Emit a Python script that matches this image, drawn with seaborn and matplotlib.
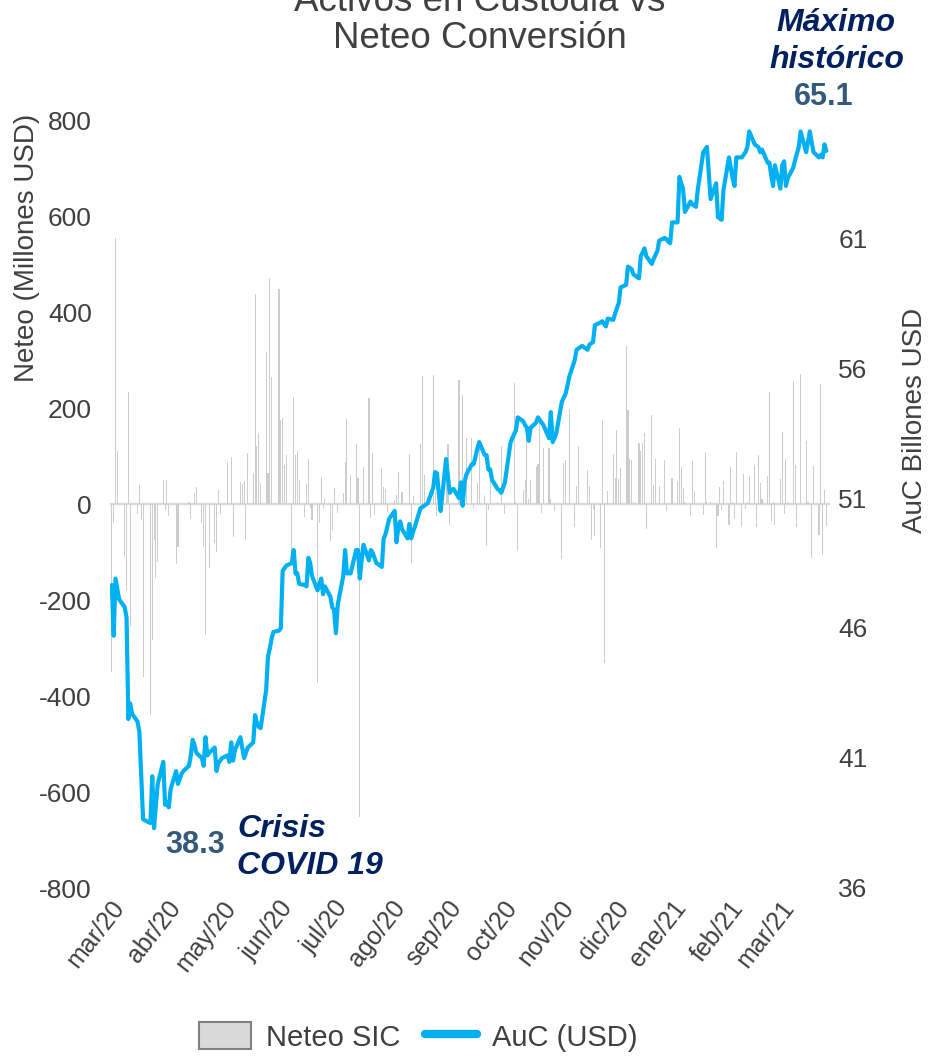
import numpy as np
import pandas as pd
import matplotlib
matplotlib.use("Agg")
import matplotlib.pyplot as plt
import matplotlib.dates as mdates
from matplotlib.patches import Patch
from matplotlib.lines import Line2D
import seaborn as sns

# ---------------- data ----------------
start_date = "2020-03-02"  # first business day shown

# Neteo SIC (Millones USD), daily business days
neteo = [
    -350, -40, 555, 111, 0, -110, -180, 233, -255, 0,
    -20, 40, -33, -360, 0, -440, -283, -75, -155, -120,
    49, -13, 49, -26, 0, -124, -89, 0, 0, 0,
    5, -30, 0, 23, 35, -40, -89, -273, 0, -134,
    -82, -99, 30, -20, 0, 88, 0, 97, -68, 0,
    45, 42, 47, -75, 107, 65, 437, 121, 147, 44,
    317, 65, 470, 265, 0, 447, 174, 180, 81, 102,
    -96, 222, 102, 110, 51, -28, 42, 93, -9, -33,
    -373, -40, 56, -9, 10, -78, -54, 34, 0, -18,
    22, 88, 178, 0, 60, 126, 55, -652, 0, 78,
    220, -30, 107, -23, 0, 74, 35, 31, -16, 0,
    8, 19, 67, 0, 26, 0, 105, -122, 17, 0,
    124, 267, 61, 0, 0, 269, 26, -26, 37, 0,
    85, 124, -43, 0, 0, 259, 0, 228, 0, 137,
    137, -8, 0, 44, 134, 16, -88, -12, 51, 0,
    5, 0, 120, 0, -20, 0, 0, 252, 5, -97,
    30, 51, 144, 10, 51, 78, 83, 183, -19, 117,
    117, 10, 0, -15, 0, -114, 85, 91, 0, 195,
    -48, 38, 120, 0, 0, 70, 38, -74, -10, -67,
    -92, 176, -331, 0, 28, 105, 54, 155, 52, 75,
    330, 196, 94, 91, 5, 127, 110, 127, 148, -53,
    186, 40, 94, 0, 37, 91, -15, 0, 0, 54,
    47, 158, 78, 33, 5, -26, 89, 28, 0, 0,
    -22, 108, 5, 0, 5, -92, -26, 35, -12, 47,
    -43, 77, 5, -29, 108, -48, 63, -10, 5, 58,
    82, -48, 103, 44, 10, 58, 233, -36, 5, -43,
    52, 149, -20, 94, 5, 257, 82, -47, 0, 271,
    131, 5, 0, -113, 80, -64, 251, -106, 30, -45,
]

# AuC (Billones USD), daily business days
auc = [
    47.65, 45.7, 47.9, 47.5, 47.1, 46.8, 46.4, 42.5, 43.1, 42.7,
    42.4, 42.0, 40.3, 38.65, 38.6, 38.5, 40.3, 38.3, 39.2, 40.0,
    40.85, 39.2, 39.3, 39.1, 39.8, 40.5, 40.0, 40.2, 40.4, 40.5,
    40.7, 41.1, 41.7, 41.5, 41.2, 41.0, 40.7, 41.8, 41.1, 41.2,
    41.4, 40.5, 40.8, 40.9, 41.0, 41.1, 40.85, 41.6, 40.9, 41.3,
    41.8, 41.4, 41.0, 41.2, 41.4, 41.6, 42.65, 42.35, 42.2, 42.15,
    43.6, 44.9, 45.2, 45.6, 45.85, 45.9, 46.0, 48.2, 48.3, 48.4,
    48.5, 49.0, 48.1, 48.1, 47.7, 47.65, 47.6, 48.7, 48.5, 48.0,
    47.45, 47.7, 47.9, 47.3, 47.6, 47.2, 46.8, 46.7, 45.8, 46.9,
    48.0, 49.0, 48.1, 48.1, 48.1, 49.0, 49.0, 47.9, 48.6, 49.2,
    48.6, 49.0, 48.9, 48.7, 48.5, 48.35, 49.45, 49.6, 49.9, 50.2,
    50.5, 49.3, 49.9, 50.1, 49.8, 49.45, 50.0, 49.45, 49.7, 49.9,
    50.6, 50.65, 50.7, 50.75, 50.8, 51.4, 52.0, 51.95, 51.2, 50.5,
    52.5, 51.8, 51.2, 51.3, 51.35, 51.0, 51.6, 50.7, 51.6, 51.9,
    52.3, 52.3, 52.6, 52.9, 53.15, 52.65, 52.65, 52.1, 52.1, 51.7,
    51.35, 51.3, 51.2, 51.4, 51.6, 53.1, 53.3, 53.45, 53.6, 54.1,
    53.95, 53.8, 53.7, 53.2, 53.7, 53.9, 54.1, 54.0, 53.9, 53.8,
    53.3, 54.3, 53.15, 53.3, 53.5, 54.7, 54.85, 55.0, 55.3, 55.65,
    56.3, 56.7, 56.75, 56.8, 56.85, 56.7, 56.9, 56.95, 57.0, 57.65,
    57.75, 57.8, 57.7, 57.6, 57.9, 57.85, 58.1, 58.3, 58.5, 59.1,
    59.2, 59.9, 59.85, 59.8, 59.6, 59.45, 60.3, 60.45, 60.6, 60.3,
    60.0, 60.2, 60.35, 60.5, 60.9, 61.0, 60.95, 60.85, 60.8, 61.6,
    61.6, 63.35, 63.1, 62.9, 62.0, 62.4, 62.3, 62.25, 62.2, 62.85,
    64.3, 64.4, 64.5, 63.5, 62.5, 63.1, 61.8, 61.75, 61.7, 62.85,
    64.1, 63.7, 63.3, 63.0, 64.1, 64.1, 64.2, 64.3, 64.5, 65.1,
    64.6, 64.55, 64.5, 64.3, 64.4, 63.9, 63.9, 63.4, 63.0, 63.8,
    62.9, 63.8, 63.95, 63.0, 63.3, 63.7, 64.0, 64.25, 64.5, 65.1,
    64.3, 64.7, 65.1, 64.7, 64.3, 64.1, 64.2, 64.1, 64.6, 64.35,
]

month_labels = ["mar/20", "abr/20", "may/20", "jun/20", "jul/20", "ago/20",
                "sep/20", "oct/20", "nov/20", "dic/20", "ene/21", "feb/21", "mar/21"]
left_ticks = [-800, -600, -400, -200, 0, 200, 400, 600, 800]
right_ticks = [36, 41, 46, 51, 56, 61]

title = "Activos en Custodia vs\nNeteo Conversión"
left_label = "Neteo (Millones USD)"
right_label = "AuC Billones USD"
series_names = ["Neteo SIC", "AuC (USD)"]
note_max = "Máximo"
note_max2 = "histórico"
note_min = "Crisis"
note_min2 = "COVID 19"

# ---------------- style ----------------
sns.set_theme(style="white")
plt.rcParams['font.family'] = ['Liberation Sans', 'DejaVu Sans']

TXT = "#404040"
BAR = "#cdcdcd"
LINE = "#00b0f0"
NAVY = "#002060"
STEEL = "#34597c"

dates = pd.bdate_range(start=start_date, periods=len(auc))
df = pd.DataFrame({"fecha": mdates.date2num(dates), "neteo": neteo, "auc": auc})

W, H = 932, 1056
fig = plt.figure(figsize=(W / 100, H / 100), dpi=100)
ax = fig.add_axes([110 / W, 1 - 888 / H, 720 / W, 768 / H])

sns.barplot(data=df, x="fecha", y="neteo", native_scale=True, color=BAR,
            saturation=1, width=0.6, errorbar=None, edgecolor="none", ax=ax)
ax.axhline(0, color="#d9d9d9", lw=1.6, zorder=0.5)

ax2 = ax.twinx()
sns.lineplot(data=df, x="fecha", y="auc", color=LINE, lw=3, ax=ax2)

# axes ranges / ticks
x0 = mdates.date2num(pd.Timestamp("2020-03-01"))
x1 = mdates.date2num(pd.Timestamp("2021-03-28"))
ax.set_xlim(x0, x1)
ax.set_ylim(-800, 800)
ax2.set_ylim(36, 36 + 768 / 26)

tick_pos = mdates.date2num(pd.date_range("2020-03-01", periods=len(month_labels), freq="MS"))
ax.set_xticks(tick_pos)
ax.set_xticklabels(month_labels, rotation=52, ha="right", rotation_mode="anchor",
                   fontsize=18, color=TXT)
ax.set_yticks(left_ticks)
ax.set_yticklabels([str(v) for v in left_ticks], fontsize=19, color=TXT)
ax2.set_yticks(right_ticks)
ax2.set_yticklabels([str(v) for v in right_ticks], fontsize=19, color=TXT)

ax.tick_params(axis="both", length=0)
ax.tick_params(axis="y", pad=13)
ax.tick_params(axis="x", pad=6)
ax2.tick_params(axis="y", length=0, pad=6)
ax.set_xlabel("")
ax.set_ylabel("")
ax2.set_xlabel("")
ax2.set_ylabel("")
for a in (ax, ax2):
    for s in a.spines.values():
        s.set_visible(False)
    a.grid(False)

# titles & axis labels
fig.text(480 / W, 1 - 20 / H, title, ha="center", va="center", fontsize=26.5,
         color=TXT, linespacing=1.1)
fig.text(27 / W, 1 - 248 / H, left_label, rotation=90, ha="center", va="center",
         fontsize=20, color=TXT)
fig.text(915 / W, 1 - 420 / H, right_label, rotation=90, ha="center", va="center",
         fontsize=20, color=TXT)

# annotations
bi = dict(fontweight="bold", fontstyle="italic", color=NAVY, fontsize=23)
fig.text(836 / W, 1 - 23 / H, note_max, ha="center", va="center", **bi)
fig.text(837 / W, 1 - 60 / H, note_max2, ha="center", va="center", **bi)
fig.text(824 / W, 1 - 97 / H, f"{max(auc):.1f}", ha="center", va="center",
         fontsize=22, fontweight="bold", color=STEEL)
fig.text(195 / W, 1 - 845 / H, f"{min(auc):.1f}", ha="center", va="center",
         fontsize=22, fontweight="bold", color=STEEL)
fig.text(237 / W, 1 - 829 / H, note_min, ha="left", va="center", **bi)
fig.text(237 / W, 1 - 866 / H, note_min2, ha="left", va="center", **bi)

# legend
handles = [Patch(facecolor="#d9d9d9", edgecolor="#808080", lw=1.5, label=series_names[0]),
           Line2D([], [], color=LINE, lw=6, label=series_names[1])]
leg = fig.legend(handles=handles, loc="center", bbox_to_anchor=(418 / W, 1 - 1037 / H),
                 ncol=2, frameon=False, fontsize=21, handlelength=1.8, handleheight=1.05,
                 columnspacing=0.85, handletextpad=0.5)
for t in leg.get_texts():
    t.set_color(TXT)

fig.savefig("out.png", dpi=100)
